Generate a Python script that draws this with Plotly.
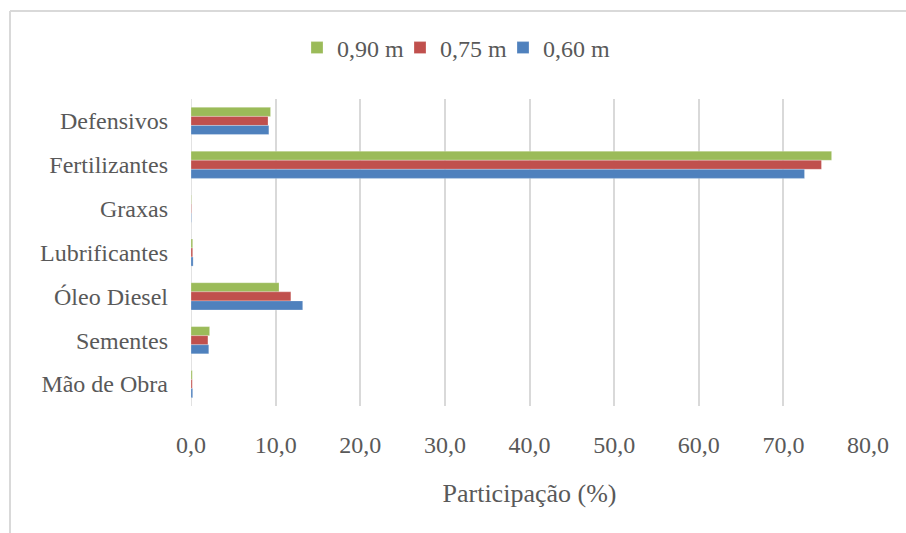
import plotly.graph_objects as go

# Input categories (top to bottom) and share of each input in the total (%)
categorias = ["Defensivos", "Fertilizantes", "Graxas", "Lubrificantes",
              "Óleo Diesel", "Sementes", "Mão de Obra"]
valores_090 = [9.4, 75.7, 0.05, 0.2, 10.4, 2.2, 0.15]
valores_075 = [9.1, 74.5, 0.05, 0.2, 11.8, 2.0, 0.15]
valores_060 = [9.2, 72.5, 0.05, 0.25, 13.2, 2.1, 0.2]
series = [("0,90 m", valores_090, "#9BBB59"),
          ("0,75 m", valores_075, "#C0504D"),
          ("0,60 m", valores_060, "#4F81BD")]
ticks_x = [0, 10, 20, 30, 40, 50, 60, 70, 80]

fig = go.Figure()
for nome, vals, cor in series:
    fig.add_trace(go.Bar(
        y=categorias, x=vals, name=nome, orientation="h",
        marker=dict(color=cor, line=dict(color="rgba(255,255,255,0.5)", width=0.5)),
    ))
# empty trailing legend slot so the last label is not clipped
fig.add_trace(go.Scatter(x=[None], y=[None], mode="lines", name=" ",
                         line=dict(width=0), hoverinfo="skip", showlegend=True))

W, H = 906, 533
L, R, T, B = 191, 38, 99, 127
pw, ph = W - L - R, H - T - B

def px_x(x):
    return (x - L) / pw

def px_y(y):
    return 1 - (y - T) / ph

font_color = "#595959"
fnt = dict(family="Liberation Serif", size=24, color=font_color)

fig.update_layout(
    width=W, height=H,
    margin=dict(l=L, r=R, t=T, b=B),
    paper_bgcolor="white", plot_bgcolor="white",
    barmode="group", bargap=0.38, bargroupgap=0,
    separators=",.",
    font=fnt,
    legend=dict(orientation="h", x=px_x(297), xanchor="left",
                y=px_y(48), yanchor="middle", font=fnt,
                bgcolor="rgba(0,0,0,0)",
                traceorder="normal", itemwidth=30,
                entrywidth=58, entrywidthmode="pixels"),
    xaxis=dict(range=[0, 80], tickvals=ticks_x, tickformat=".1f",
               showgrid=True, gridcolor="#D9D9D9", gridwidth=1.5,
               zeroline=False, showline=False, ticks="",
               ticklabelstandoff=22, tickfont=fnt,
               title=dict(text="Participação (%)", standoff=26,
                          font=dict(family="Liberation Serif", size=26,
                                    color=font_color))),
    yaxis=dict(autorange="reversed", showgrid=False, zeroline=False,
               showline=False, ticks="", ticklabelstandoff=22, tickfont=fnt),
    shapes=[
        dict(type="line", xref="paper", yref="paper",
             x0=px_x(10), x1=px_x(W + 5), y0=px_y(11), y1=px_y(11),
             line=dict(color="#D9D9D9", width=2)),
        dict(type="line", xref="paper", yref="paper",
             x0=px_x(10), x1=px_x(10), y0=px_y(11), y1=px_y(H + 5),
             line=dict(color="#D9D9D9", width=2)),
        dict(type="line", xref="x", yref="paper", x0=0, x1=0, y0=0, y1=1,
             line=dict(color="#D9D9D9", width=1.5), layer="below"),
    ],
)

fig.write_html("out.html")
